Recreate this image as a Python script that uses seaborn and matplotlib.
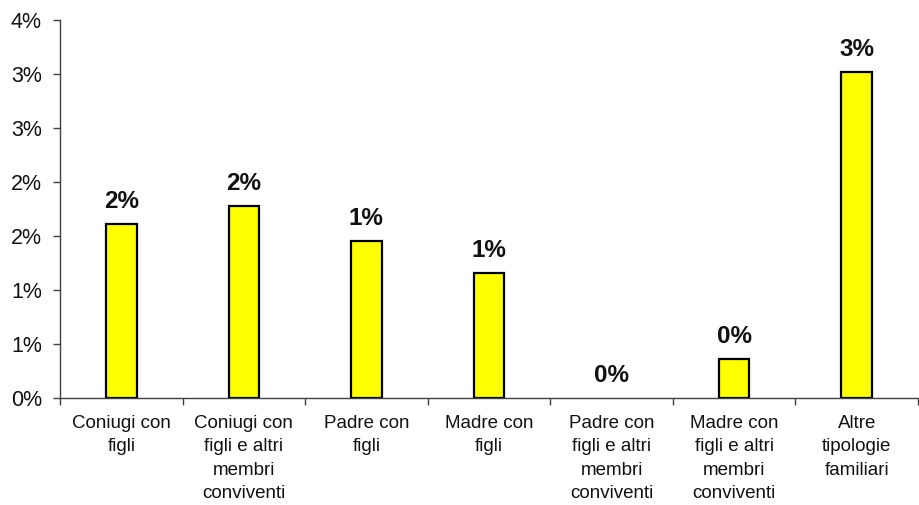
import matplotlib
matplotlib.use('Agg')
import matplotlib.pyplot as plt
import matplotlib.ticker as mticker
import seaborn as sns
import pandas as pd
import numpy as np

categories = [
    "Coniugi con\nfigli",
    "Coniugi con\nfigli e altri\nmembri\nconviventi",
    "Padre con\nfigli",
    "Madre con\nfigli",
    "Padre con\nfigli e altri\nmembri\nconviventi",
    "Madre con\nfigli e altri\nmembri\nconviventi",
    "Altre\ntipologie\nfamiliari",
]
values = [1.61, 1.78, 1.45, 1.16, 0.0, 0.36, 3.02]  # percent
y_ticks = [0, 0.5, 1.0, 1.5, 2.0, 2.5, 3.0, 3.5]


def pct(v, pos=None):
    # Excel style rounding (half up), no decimals
    return f"{int(np.floor(v + 0.5))}%"


def main():
    sns.set_style("white")
    plt.rcParams['font.family'] = ['Liberation Sans', 'DejaVu Sans']

    df = pd.DataFrame({"cat": categories, "val": values})

    fig = plt.figure(figsize=(9.2, 5.05), dpi=100)
    ax = fig.add_axes([60 / 920, 107 / 505, 858 / 920, 378 / 505])

    sns.barplot(data=df, x="cat", y="val", color="#FFFF00", edgecolor="black",
                linewidth=1.6, width=0.25, ax=ax, saturation=1)
    # no outline for empty bars
    for p, v in zip(ax.patches, values):
        if v == 0:
            p.set_linewidth(0)

    # value labels
    for i, v in enumerate(values):
        ax.annotate(pct(v), (i, v), xytext=(0, 8), textcoords="offset points",
                    ha="center", va="bottom", fontsize=17.5, fontweight="bold",
                    color="#111111")

    ax.set_ylim(0, 3.5)
    ax.set_xlim(-0.5, len(categories) - 0.5)
    ax.set_yticks(y_ticks)
    ax.yaxis.set_major_formatter(mticker.FuncFormatter(pct))
    ax.set_xlabel("")
    ax.set_ylabel("")
    for lbl in ax.get_xticklabels():
        lbl.set_linespacing(1.5)

    # x tick marks between categories, labels centered without ticks
    ax.set_xticks(np.arange(len(categories) + 1) - 0.5, minor=True)
    ax.tick_params(axis="x", which="major", length=0, pad=12, labelsize=13.5,
                   colors="#111111")
    ax.tick_params(axis="x", which="minor", length=5, width=1, color="#404040",
                   direction="out", bottom=True)
    ax.tick_params(axis="y", length=5, width=1, color="#404040", direction="out",
                   left=True, labelsize=15.5, labelcolor="#111111", pad=8)

    for s in ["top", "right"]:
        ax.spines[s].set_visible(False)
    for s in ["left", "bottom"]:
        ax.spines[s].set_color("#404040")
        ax.spines[s].set_linewidth(1)

    fig.savefig("out.png", dpi=100)
    plt.close(fig)


if __name__ == "__main__":
    main()
